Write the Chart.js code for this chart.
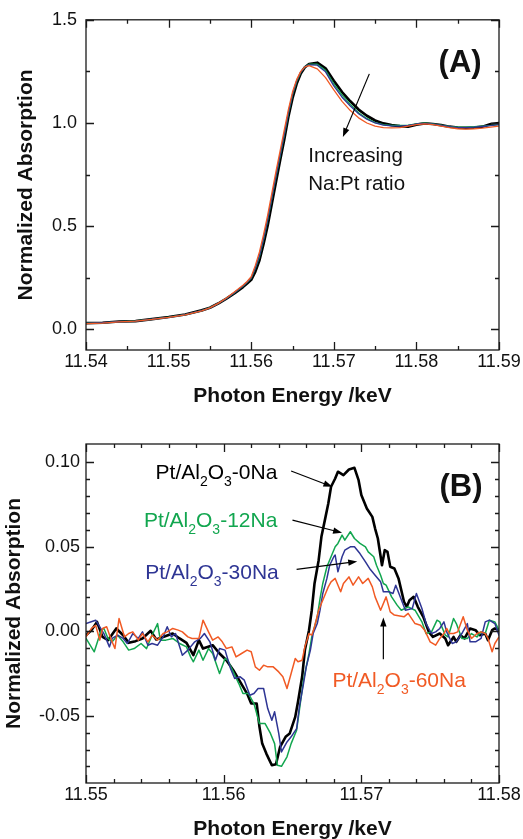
<!DOCTYPE html>
<html>
<head>
<meta charset="utf-8">
<script src="https://cdn.jsdelivr.net/npm/chart.js@4/dist/chart.umd.min.js"></script>
<style>
  html,body{margin:0;padding:0;background:#fff;}
  body{width:523px;height:839px;overflow:hidden;position:relative;}
  #cA{position:absolute;left:0;top:0;}
  #cB{position:absolute;left:0;top:420px;}
</style>
</head>
<body>
<canvas id="cA" width="523" height="420"></canvas>
<canvas id="cB" width="523" height="419"></canvas>
<script>
// ===================== DATA =====================
// Panel (A): normalized XANES spectra
const energyA = [11.540,11.542,11.544,11.546,11.548,11.550,11.552,11.554,11.555,11.556,11.557,11.558,11.559,11.5595,11.560,11.5605,11.561,11.5615,11.562,11.5625,11.563,11.5635,11.564,11.5645,11.565,11.5655,11.566,11.5665,11.567,11.568,11.569,11.570,11.571,11.572,11.573,11.574,11.575,11.576,11.577,11.578,11.579,11.580,11.581,11.582,11.583,11.584,11.585,11.586,11.587,11.588,11.589,11.590];
const absA_0Na  = [0.030,0.032,0.038,0.040,0.050,0.060,0.072,0.092,0.105,0.125,0.149,0.176,0.205,0.222,0.240,0.280,0.335,0.415,0.505,0.610,0.715,0.820,0.920,1.030,1.120,1.190,1.240,1.270,1.285,1.292,1.265,1.205,1.150,1.105,1.065,1.035,1.012,0.998,0.990,0.985,0.982,0.992,0.998,0.995,0.990,0.982,0.978,0.976,0.978,0.982,0.995,1.000];
const absA_12Na = [0.030,0.031,0.037,0.041,0.049,0.059,0.071,0.091,0.105,0.125,0.150,0.178,0.209,0.227,0.248,0.295,0.352,0.435,0.530,0.635,0.740,0.840,0.940,1.045,1.135,1.200,1.245,1.272,1.285,1.285,1.255,1.190,1.135,1.090,1.050,1.022,1.002,0.992,0.988,0.988,0.990,0.996,1.000,0.996,0.990,0.984,0.980,0.980,0.982,0.985,0.988,0.992];
const absA_30Na = [0.029,0.032,0.037,0.040,0.049,0.058,0.071,0.091,0.104,0.125,0.150,0.179,0.210,0.228,0.250,0.298,0.358,0.440,0.535,0.640,0.745,0.845,0.945,1.050,1.140,1.205,1.247,1.272,1.282,1.280,1.248,1.180,1.125,1.082,1.045,1.018,1.000,0.990,0.986,0.985,0.988,0.995,0.998,0.994,0.988,0.982,0.978,0.978,0.980,0.983,0.987,0.992];
const absA_60Na = [0.028,0.030,0.036,0.040,0.048,0.058,0.070,0.090,0.104,0.126,0.152,0.182,0.214,0.232,0.255,0.310,0.375,0.460,0.555,0.660,0.765,0.865,0.965,1.065,1.150,1.210,1.250,1.272,1.278,1.262,1.220,1.160,1.105,1.060,1.025,1.000,0.985,0.978,0.976,0.978,0.985,0.992,0.996,0.992,0.985,0.978,0.972,0.970,0.972,0.975,0.980,0.985];

// Panel (B): difference spectra
const energyB_0Na = [11.5500,11.5504,11.5508,11.5512,11.5516,11.5522,11.5527,11.5531,11.5536,11.5541,11.5547,11.5551,11.5556,11.5563,11.5568,11.5573,11.5578,11.5582,11.5585,11.5592,11.5597,11.5602,11.5607,11.5612,11.5617,11.5620,11.5624,11.5626,11.5628,11.5631,11.5635,11.5638,11.5641,11.5645,11.5648,11.5652,11.5654,11.5657,11.5659,11.5662,11.5664,11.5666,11.5669,11.5671,11.5674,11.5676,11.5678,11.5681,11.5683,11.5687,11.5691,11.5695,11.5698,11.5700,11.5704,11.5708,11.5710,11.5712,11.5715,11.5717,11.5719,11.5721,11.5724,11.5727,11.5731,11.5733,11.5735,11.5738,11.5741,11.5745,11.5749,11.5752,11.5757,11.5761,11.5763,11.5767,11.5769,11.5772,11.5775,11.5779,11.5783,11.5786,11.5790,11.5792,11.5795,11.5797,11.5800];
const absB_0Na = [-0.0024,0.0006,0.0055,-0.0034,-0.0053,0.0016,-0.0024,-0.0069,-0.0059,-0.0043,0.0002,-0.0049,-0.0034,-0.0014,-0.0043,-0.0069,-0.0142,-0.0053,-0.0103,-0.0083,-0.0132,-0.0172,-0.0231,-0.0300,-0.0369,-0.0428,-0.0428,-0.0566,-0.0665,-0.0724,-0.0793,-0.0787,-0.0684,-0.0625,-0.0605,-0.0507,-0.0418,-0.0270,-0.0112,0.0006,0.0124,0.0282,0.0420,0.0558,0.0676,0.0755,0.0854,0.0903,0.0943,0.0923,0.0956,0.0966,0.0893,0.0805,0.0726,0.0676,0.0607,0.0548,0.0390,0.0479,0.0469,0.0381,0.0371,0.0312,0.0174,0.0144,0.0183,0.0203,0.0144,0.0085,-0.0004,-0.0034,-0.0014,-0.0043,-0.0083,-0.0034,-0.0063,-0.0024,-0.0043,0.0016,0.0006,-0.0024,-0.0014,-0.0053,0.0006,0.0016,0.0006];

const energyB_12Na = [11.5500,11.5506,11.5511,11.5513,11.5516,11.5519,11.5523,11.5527,11.5531,11.5535,11.5540,11.5544,11.5546,11.5548,11.5552,11.5554,11.5558,11.5563,11.5568,11.5573,11.5576,11.5578,11.5582,11.5585,11.5589,11.5592,11.5597,11.5601,11.5603,11.5607,11.5611,11.5614,11.5618,11.5622,11.5624,11.5626,11.5630,11.5634,11.5637,11.5639,11.5642,11.5646,11.5649,11.5653,11.5655,11.5658,11.5662,11.5664,11.5668,11.5670,11.5672,11.5675,11.5678,11.5681,11.5683,11.5686,11.5688,11.5692,11.5695,11.5699,11.5703,11.5705,11.5709,11.5711,11.5714,11.5716,11.5718,11.5722,11.5726,11.5729,11.5734,11.5739,11.5744,11.5747,11.5751,11.5755,11.5757,11.5761,11.5763,11.5767,11.5769,11.5773,11.5777,11.5780,11.5784,11.5787,11.5790,11.5793,11.5797,11.5800];
const absB_12Na = [-0.0043,-0.0122,0.0006,0.0016,-0.0043,-0.0063,-0.0024,-0.0063,-0.0112,-0.0103,-0.0073,-0.0103,-0.0063,-0.0024,0.0045,-0.0053,-0.0053,-0.0043,-0.0073,-0.0093,-0.0152,-0.0181,-0.0112,-0.0172,-0.0103,-0.0132,-0.0250,-0.0162,-0.0172,-0.0241,-0.0310,-0.0369,-0.0369,-0.0428,-0.0487,-0.0546,-0.0546,-0.0605,-0.0665,-0.0793,-0.0799,-0.0743,-0.0665,-0.0586,-0.0467,-0.0290,-0.0132,-0.0034,0.0085,0.0193,0.0282,0.0381,0.0440,0.0499,0.0519,0.0568,0.0538,0.0588,0.0548,0.0519,0.0499,0.0469,0.0440,0.0390,0.0331,0.0282,0.0272,0.0203,0.0154,0.0124,0.0144,0.0124,0.0055,-0.0014,-0.0004,0.0065,0.0055,-0.0024,-0.0034,0.0075,0.0045,-0.0043,-0.0043,-0.0014,-0.0034,-0.0004,-0.0014,0.0065,0.0055,0.0006];

const energyB_30Na = [11.5500,11.5507,11.5513,11.5517,11.5519,11.5523,11.5527,11.5530,11.5534,11.5538,11.5541,11.5545,11.5548,11.5552,11.5556,11.5559,11.5562,11.5565,11.5570,11.5574,11.5579,11.5583,11.5586,11.5590,11.5594,11.5597,11.5601,11.5605,11.5608,11.5612,11.5615,11.5619,11.5622,11.5625,11.5629,11.5632,11.5635,11.5637,11.5640,11.5642,11.5646,11.5649,11.5653,11.5655,11.5658,11.5660,11.5663,11.5665,11.5668,11.5670,11.5672,11.5675,11.5677,11.5680,11.5681,11.5683,11.5686,11.5688,11.5692,11.5695,11.5699,11.5703,11.5706,11.5710,11.5714,11.5716,11.5720,11.5723,11.5725,11.5732,11.5737,11.5740,11.5744,11.5747,11.5751,11.5754,11.5757,11.5760,11.5762,11.5766,11.5769,11.5773,11.5777,11.5779,11.5783,11.5787,11.5790,11.5793,11.5797,11.5800];
const absB_30Na = [0.0045,0.0065,-0.0014,-0.0093,-0.0043,-0.0024,-0.0043,-0.0073,-0.0014,-0.0043,-0.0004,-0.0083,-0.0073,-0.0083,-0.0034,0.0026,-0.0034,-0.0014,-0.0142,-0.0112,-0.0063,-0.0043,-0.0014,-0.0063,-0.0172,-0.0103,-0.0112,-0.0221,-0.0280,-0.0270,-0.0290,-0.0379,-0.0369,-0.0339,-0.0339,-0.0458,-0.0527,-0.0477,-0.0605,-0.0714,-0.0655,-0.0625,-0.0576,-0.0448,-0.0310,-0.0211,-0.0112,-0.0014,0.0045,0.0124,0.0223,0.0312,0.0390,0.0440,0.0450,0.0351,0.0440,0.0479,0.0499,0.0499,0.0459,0.0410,0.0371,0.0331,0.0292,0.0233,0.0233,0.0223,0.0272,0.0124,0.0134,0.0223,0.0134,0.0045,-0.0014,-0.0004,0.0016,0.0055,-0.0004,-0.0073,-0.0063,-0.0014,0.0045,-0.0063,-0.0063,-0.0043,0.0055,0.0065,0.0045,-0.0024];

const energyB_60Na = [11.5500,11.5504,11.5507,11.5510,11.5512,11.5515,11.5518,11.5521,11.5524,11.5528,11.5531,11.5534,11.5538,11.5541,11.5545,11.5548,11.5552,11.5556,11.5559,11.5563,11.5567,11.5570,11.5574,11.5577,11.5582,11.5585,11.5589,11.5592,11.5596,11.5599,11.5602,11.5606,11.5609,11.5613,11.5617,11.5620,11.5623,11.5626,11.5629,11.5632,11.5636,11.5640,11.5643,11.5646,11.5649,11.5652,11.5654,11.5657,11.5659,11.5662,11.5664,11.5666,11.5669,11.5671,11.5674,11.5676,11.5678,11.5681,11.5685,11.5687,11.5691,11.5694,11.5698,11.5701,11.5705,11.5708,11.5710,11.5714,11.5718,11.5721,11.5724,11.5731,11.5734,11.5739,11.5743,11.5746,11.5750,11.5754,11.5757,11.5760,11.5762,11.5764,11.5767,11.5770,11.5774,11.5777,11.5780,11.5784,11.5787,11.5790,11.5792,11.5795,11.5797,11.5800];
const absB_60Na = [-0.0034,0.0016,0.0035,-0.0053,0.0016,0.0026,-0.0043,-0.0103,0.0075,-0.0034,-0.0014,-0.0004,-0.0053,-0.0014,-0.0063,-0.0024,-0.0053,-0.0014,-0.0004,0.0016,0.0006,-0.0004,-0.0034,-0.0043,-0.0043,0.0065,-0.0004,-0.0053,-0.0034,-0.0063,-0.0103,-0.0093,-0.0152,-0.0132,-0.0112,-0.0122,-0.0211,-0.0231,-0.0201,-0.0211,-0.0211,-0.0241,-0.0270,-0.0339,-0.0250,-0.0162,-0.0181,-0.0172,-0.0093,-0.0014,-0.0024,0.0026,0.0124,0.0164,0.0223,0.0262,0.0292,0.0312,0.0233,0.0282,0.0321,0.0272,0.0321,0.0282,0.0312,0.0262,0.0203,0.0124,0.0203,0.0114,0.0095,0.0085,0.0105,0.0045,0.0035,0.0006,-0.0063,-0.0083,-0.0043,-0.0014,0.0016,-0.0014,-0.0014,-0.0004,0.0085,0.0006,-0.0043,-0.0014,-0.0004,-0.0014,-0.0043,-0.0122,-0.0073,-0.0034];

// Tick values
const xTicksA = [11.54,11.55,11.56,11.57,11.58,11.59];
const xMinorA = [11.545,11.555,11.565,11.575,11.585];
const yTicksA = [0.0,0.5,1.0,1.5];
const yMinorA = [0.25,0.75,1.25];
const xTicksB = [11.55,11.56,11.57,11.58];
const xMinorB = [11.552,11.554,11.556,11.558,11.562,11.564,11.566,11.568,11.572,11.574,11.576,11.578];
const yTicksB = [-0.05,0.00,0.05,0.10];
const yMinorB = [-0.08,-0.07,-0.06,-0.04,-0.03,-0.02,-0.01,0.01,0.02,0.03,0.04,0.06,0.07,0.08,0.09];

// Text
const xTitle = 'Photon Energy /keV';
const yTitle = 'Normalized Absorption';
const panelA = '(A)';
const panelB = '(B)';
const noteA = ['Increasing', 'Na:Pt ratio'];
const nameB_0Na  = [['Pt/Al',0],['2',1],['O',0],['3',1],['-0Na',0]];
const nameB_12Na = [['Pt/Al',0],['2',1],['O',0],['3',1],['-12Na',0]];
const nameB_30Na = [['Pt/Al',0],['2',1],['O',0],['3',1],['-30Na',0]];
const nameB_60Na = [['Pt/Al',0],['2',1],['O',0],['3',1],['-60Na',0]];

// ===================== STYLE =====================
const FAM = "'Liberation Sans', Arial, Helvetica, sans-serif";
const C_BLACK = '#000000', C_GREEN = '#12a64f', C_BLUE = '#2e3594', C_ORANGE = '#f15a24';
const AXIS_COLOR = '#1a1a1a';

const pts = (xs, ys) => xs.map((x, i) => ({x, y: ys[i]}));

function lineDs(label, xs, ys, color, width){
  return {label, data: pts(xs, ys), borderColor: color, backgroundColor: color,
          borderWidth: width, pointRadius: 0, tension: 0, fill: false,
          borderJoinStyle: 'round', borderCapStyle: 'round'};
}

// frame + inward ticks on all four sides
const frameTicks = {
  id: 'frameTicks',
  afterDatasetsDraw(chart, args, o){
    const {ctx, chartArea: a, scales: {x, y}} = chart;
    ctx.save();
    ctx.strokeStyle = AXIS_COLOR;
    ctx.lineWidth = 1.3;
    ctx.beginPath();
    const tX = (vals, len) => vals.forEach(v => {
      const px = Math.round(x.getPixelForValue(v)) + 0.5;
      ctx.moveTo(px, a.bottom); ctx.lineTo(px, a.bottom - len);
      ctx.moveTo(px, a.top); ctx.lineTo(px, a.top + len);
    });
    const tY = (vals, len) => vals.forEach(v => {
      const py = Math.round(y.getPixelForValue(v)) + 0.5;
      ctx.moveTo(a.left, py); ctx.lineTo(a.left + len, py);
      ctx.moveTo(a.right, py); ctx.lineTo(a.right - len, py);
    });
    tX(o.majorX, 8); tX(o.minorX, 4);
    tY(o.majorY, 8); tY(o.minorY, 4);
    ctx.stroke();
    ctx.strokeRect(a.left, a.top, a.right - a.left, a.bottom - a.top);
    ctx.restore();
  }
};

function drawParts(ctx, parts, x, y, align, size, color){
  const sub = Math.round(size * 0.66);
  ctx.fillStyle = color;
  ctx.textBaseline = 'alphabetic';
  ctx.textAlign = 'left';
  let w = 0;
  parts.forEach(([t, s]) => { ctx.font = (s ? sub : size) + 'px ' + FAM; w += ctx.measureText(t).width; });
  let cx = align === 'right' ? x - w : x;
  parts.forEach(([t, s]) => {
    ctx.font = (s ? sub : size) + 'px ' + FAM;
    ctx.fillText(t, cx, y + (s ? 7 : 0));
    cx += ctx.measureText(t).width;
  });
}

function arrow(ctx, x1, y1, x2, y2){
  const ang = Math.atan2(y2 - y1, x2 - x1);
  const L = 9, W = 3.2;
  ctx.beginPath();
  ctx.moveTo(x1, y1);
  ctx.lineTo(x2 - Math.cos(ang) * L * 0.8, y2 - Math.sin(ang) * L * 0.8);
  ctx.stroke();
  ctx.beginPath();
  ctx.moveTo(x2, y2);
  ctx.lineTo(x2 - Math.cos(ang) * L - Math.sin(ang) * W, y2 - Math.sin(ang) * L + Math.cos(ang) * W);
  ctx.lineTo(x2 - Math.cos(ang) * L + Math.sin(ang) * W, y2 - Math.sin(ang) * L - Math.cos(ang) * W);
  ctx.closePath();
  ctx.fill();
}

// annotations placed in data coordinates
const notes = {
  id: 'notes',
  afterDraw(chart, args, o){
    const {ctx, scales: {x, y}} = chart;
    ctx.save();
    (o.texts || []).forEach(t => {
      const px = x.getPixelForValue(t.at[0]), py = y.getPixelForValue(t.at[1]);
      if (t.parts) {
        drawParts(ctx, t.parts, px, py, t.align, t.size, t.color);
      } else {
        ctx.font = (t.bold ? 'bold ' : '') + t.size + 'px ' + FAM;
        ctx.fillStyle = t.color;
        ctx.textAlign = t.align;
        ctx.textBaseline = 'alphabetic';
        ctx.fillText(t.text, px, py);
      }
    });
    ctx.strokeStyle = '#000'; ctx.fillStyle = '#000'; ctx.lineWidth = 1.2;
    (o.arrows || []).forEach(ar => {
      arrow(ctx, x.getPixelForValue(ar[0]), y.getPixelForValue(ar[1]),
                 x.getPixelForValue(ar[2]), y.getPixelForValue(ar[3]));
    });
    ctx.restore();
  }
};

function axisCfg(opt){
  return {
    x: {
      type: 'linear', min: opt.xmin, max: opt.xmax,
      afterBuildTicks: s => { s.ticks = opt.xt.map(v => ({value: v})); },
      afterFit: s => { s.height = opt.xh; },
      grid: {display: false, drawTicks: false}, border: {display: false},
      ticks: {padding: 1, color: '#111', font: {family: FAM, size: 18},
              maxRotation: 0, minRotation: 0, autoSkip: false,
              callback: v => Number(v).toFixed(opt.xdec)},
      title: {display: true, text: xTitle, color: '#111',
              font: {family: FAM, size: 21, weight: 'bold', lineHeight: 0.9},
              padding: {top: 0, bottom: opt.xtp}}
    },
    y: {
      type: 'linear', min: opt.ymin, max: opt.ymax,
      afterBuildTicks: s => { s.ticks = opt.yt.map(v => ({value: v})); },
      afterFit: s => { s.width = 86; },
      grid: {display: false, drawTicks: false}, border: {display: false},
      ticks: {padding: opt.ypad, color: '#111', font: {family: FAM, size: 18},
              autoSkip: false, callback: v => Number(v).toFixed(opt.ydec)},
      title: {display: true, text: yTitle, color: '#111',
              font: {family: FAM, size: 21, weight: 'bold', lineHeight: 0.9},
              padding: {top: opt.ytp, bottom: 0}}
    }
  };
}

Chart.defaults.font.family = FAM;

// ===================== PANEL A =====================
new Chart(document.getElementById('cA'), {
  type: 'line',
  data: {datasets: [
    lineDs('60Na', energyA, absA_60Na, C_ORANGE, 1.3),
    lineDs('30Na', energyA, absA_30Na, C_BLUE, 1.3),
    lineDs('12Na', energyA, absA_12Na, C_GREEN, 1.3),
    lineDs('0Na',  energyA, absA_0Na,  C_BLACK, 2.7)
  ]},
  options: {
    responsive: false, animation: false, devicePixelRatio: 1,
    layout: {padding: {top: 19, right: 24, bottom: 0, left: 0}},
    scales: axisCfg({xmin: 11.54, xmax: 11.59, xt: xTicksA, xh: 70, xdec: 2, xtp: 14.5,
                     ymin: -0.1, ymax: 1.5, yt: yTicksA, ypad: 9, ydec: 1, ytp: 16.5}),
    plugins: {
      legend: {display: false}, tooltip: {enabled: false},
      frameTicks: {majorX: xTicksA, minorX: xMinorA, majorY: yTicksA, minorY: yMinorA},
      notes: {
        texts: [
          {text: panelA, at: [11.5879, 1.248], align: 'right', size: 31, bold: true, color: '#111'},
          {text: noteA[0], at: [11.5669, 0.812], align: 'left', size: 20.5, color: '#111'},
          {text: noteA[1], at: [11.5669, 0.675], align: 'left', size: 20.5, color: '#111'}
        ],
        arrows: [[11.5743, 1.238, 11.5711, 0.932]]
      }
    }
  },
  plugins: [frameTicks, notes]
});

// ===================== PANEL B =====================
new Chart(document.getElementById('cB'), {
  type: 'line',
  data: {datasets: [
    lineDs('60Na', energyB_60Na, absB_60Na, C_ORANGE, 1.5),
    lineDs('30Na', energyB_30Na, absB_30Na, C_BLUE, 1.5),
    lineDs('12Na', energyB_12Na, absB_12Na, C_GREEN, 1.5),
    lineDs('0Na',  energyB_0Na,  absB_0Na,  C_BLACK, 2.6)
  ]},
  options: {
    responsive: false, animation: false, devicePixelRatio: 1,
    layout: {padding: {top: 24, right: 24, bottom: 0, left: 0}},
    scales: axisCfg({xmin: 11.55, xmax: 11.58, xt: xTicksB, xh: 56, xdec: 2, xtp: 0,
                     ymin: -0.0898, ymax: 0.1107, yt: yTicksB, ypad: 6, ydec: 2, ytp: 5}),
    plugins: {
      legend: {display: false}, tooltip: {enabled: false},
      frameTicks: {majorX: xTicksB, minorX: xMinorB, majorY: yTicksB, minorY: yMinorB},
      notes: {
        texts: [
          {text: panelB, at: [11.5788, 0.0799], align: 'right', size: 31, bold: true, color: '#111'},
          {parts: nameB_0Na,  at: [11.5639, 0.0899], align: 'right', size: 21, color: C_BLACK},
          {parts: nameB_12Na, at: [11.5639, 0.0615], align: 'right', size: 21, color: C_GREEN},
          {parts: nameB_30Na, at: [11.5640, 0.0308], align: 'right', size: 21, color: C_BLUE},
          {parts: nameB_60Na, at: [11.5679, -0.0330], align: 'left', size: 21, color: C_ORANGE}
        ],
        arrows: [
          [11.5649, 0.0947, 11.5679, 0.0854],
          [11.5650, 0.0657, 11.5686, 0.0582],
          [11.5653, 0.0365, 11.5697, 0.0412],
          [11.5716, -0.0166, 11.5716, 0.0081]
        ]
      }
    }
  },
  plugins: [frameTicks, notes]
});
</script>
</body>
</html>
